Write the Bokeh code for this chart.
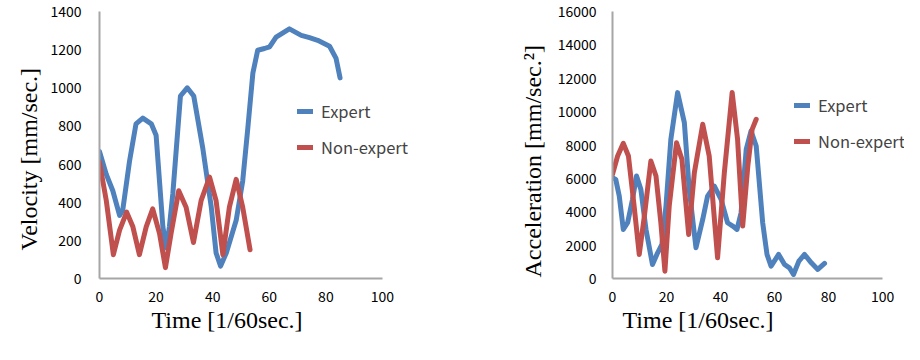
from bokeh.plotting import figure
from bokeh.layouts import row
from bokeh.models import Range1d, Legend, LegendItem, Title, FixedTicker
from bokeh.embed import file_html
from bokeh.resources import INLINE

# ---- data: velocity ----
vel_exp_t = [0, 2.4, 4.7, 7.1, 8.2, 10.6, 12.9, 15.3, 18.3, 20, 22.4, 23.6, 24.7, 25.9,
             28.6, 31, 33.3, 36.5, 39.5, 41.2, 42.8, 44.8, 48.3, 50.6, 52.4, 54.2, 55.9,
             58.3, 60.1, 62.4, 67.1, 71.3, 74.2, 77.1, 81.3, 83.6, 85]
vel_exp_v = [666, 546, 460, 331, 357, 614, 811, 841, 811, 751, 271, 160, 271, 443,
             957, 1000, 957, 683, 374, 134, 65, 134, 305, 511, 786, 1077, 1197,
             1206, 1215, 1266, 1309, 1275, 1263, 1249, 1218, 1154, 1052]
vel_non_t = [0, 2.4, 4.9, 7.1, 9.6, 11.8, 14.1, 16.5, 18.8, 21.2, 23.3, 25.3, 28, 30.6,
             33.2, 35.9, 38.9, 41.2, 43.6, 45.9, 48.3, 50.6, 53.2]
vel_non_v = [609, 408, 125, 254, 348, 271, 125, 271, 365, 237, 57, 237, 460, 374,
             189, 408, 532, 408, 125, 374, 520, 374, 151]

# ---- data: acceleration ----
acc_exp_t = [0, 1.2, 2.5, 4, 5.6, 7.4, 8.9, 10.5, 12.4, 14.8, 16.7, 18.3, 19.8, 21.6,
             24.1, 26.6, 28.4, 30.9, 33.4, 35.2, 37.7, 40.2, 42.6, 44.5, 46.1, 47.6,
             49.5, 51.3, 53.2, 55.6, 57.2, 58.7, 61.5, 63.7, 65.5, 67, 69, 71.1, 73.6,
             76, 78.5]
acc_exp_v = [6040, 5940, 4940, 2940, 3340, 4740, 6140, 5340, 2940, 840, 1540, 2040, 4340,
             8340, 11140, 9340, 5340, 1840, 3540, 4940, 5540, 4740, 3340, 3140, 2940,
             3940, 7740, 8840, 7940, 3340, 1440, 740, 1440, 840, 640, 240, 1040, 1440,
             940, 540, 900]
acc_non_t = [0, 1.9, 4, 5.9, 8, 9.9, 11.8, 14.2, 16.1, 17.9, 19.4, 21, 23.7, 25.7, 28.2,
             30.3, 33.4, 35.8, 38.9, 41.4, 44.3, 46.3, 48.2, 50.1, 51.7, 53.2]
acc_non_v = [6240, 7340, 8100, 7340, 4340, 1440, 3740, 7040, 6140, 3340, 440, 4340, 8140,
             7140, 2640, 6340, 9240, 7340, 1240, 6340, 11140, 8340, 3140, 6740, 8940, 9540]

x_ticks = [0, 20, 40, 60, 80, 100]
vel_ticks = [0, 200, 400, 600, 800, 1000, 1200, 1400]
acc_ticks = [0, 2000, 4000, 6000, 8000, 10000, 12000, 14000, 16000]

BLUE = "#4F81BD"
RED = "#C0504D"
AXIS = "#A6A6A6"
TICK_FONT = "Noto Sans CJK JP"
LABEL_FONT = "Liberation Serif"


def make(width, ymax, yticks, xmax, b_left, b_right, b_top, et, ev, nt, nv,
         ylabel, xoff, yoff, leg_loc, ylab_standoff, ytick_standoff):
    p = figure(width=width, height=344, output_backend="svg", toolbar_location=None,
               x_range=Range1d(0, xmax), y_range=Range1d(0, ymax),
               min_border_left=b_left, min_border_right=b_right,
               min_border_top=b_top, min_border_bottom=66)
    p.outline_line_color = None
    p.grid.visible = False
    p.background_fill_color = "white"
    p.border_fill_color = "white"
    for ax in (p.xaxis[0], p.yaxis[0]):
        ax.axis_line_color = AXIS
        ax.axis_line_width = 2
        ax.major_tick_line_color = None
        ax.minor_tick_line_color = None
        ax.major_tick_out = 0
        ax.major_tick_in = 0
        ax.minor_tick_out = 0
        ax.minor_tick_in = 0
        ax.major_label_text_font = TICK_FONT
        ax.major_label_text_font_size = "14px"
        ax.major_label_text_color = "#000000"
        ax.axis_label_standoff = 0
    p.xaxis[0].ticker = FixedTicker(ticks=x_ticks)
    p.xaxis[0].bounds = (0, 100)
    p.yaxis[0].ticker = FixedTicker(ticks=yticks)
    p.xaxis[0].major_label_standoff = 12
    p.yaxis[0].major_label_standoff = ytick_standoff

    r1 = p.line(et, ev, line_color=BLUE, line_width=5, line_join="round", line_cap="round")
    r2 = p.line(nt, nv, line_color=RED, line_width=5, line_join="round", line_cap="round")

    leg = Legend(items=[LegendItem(label="Expert", renderers=[r1]),
                        LegendItem(label="Non-expert", renderers=[r2])],
                 location=leg_loc, padding=0, margin=0, spacing=12,
                 glyph_width=16, glyph_height=20, label_height=20, label_standoff=8,
                 border_line_color=None, background_fill_alpha=0,
                 label_text_font=TICK_FONT, label_text_font_size="16.5px")
    p.add_layout(leg)

    xt = Title(text="Time [1/60sec.]", align="left", offset=xoff, standoff=0,
               text_font=LABEL_FONT, text_font_size="24px", text_font_style="normal",
               text_color="#000000")
    p.add_layout(xt, "below")
    yt = Title(text=ylabel, align="left", offset=yoff, standoff=ylab_standoff,
               text_font=LABEL_FONT, text_font_size="24px", text_font_style="normal",
               text_color="#000000")
    p.add_layout(yt, "left")
    return p


p1 = make(445, 1400, vel_ticks, 115.2, 99, 20, 6, vel_exp_t, vel_exp_v, vel_non_t, vel_non_v,
          "Velocity [mm/sec.]", 52, 28, (198, 119), 12, 18)
p2 = make(459, 16000, acc_ticks, 108.1, 167, 0, 11, acc_exp_t, acc_exp_v, acc_non_t, acc_non_v,
          "Acceleration [mm/sec.\u00b2]", 10, 1, (182, 125), 18, 16)

layout = row(p1, p2)
open("out.html", "w").write(file_html(layout, INLINE))
